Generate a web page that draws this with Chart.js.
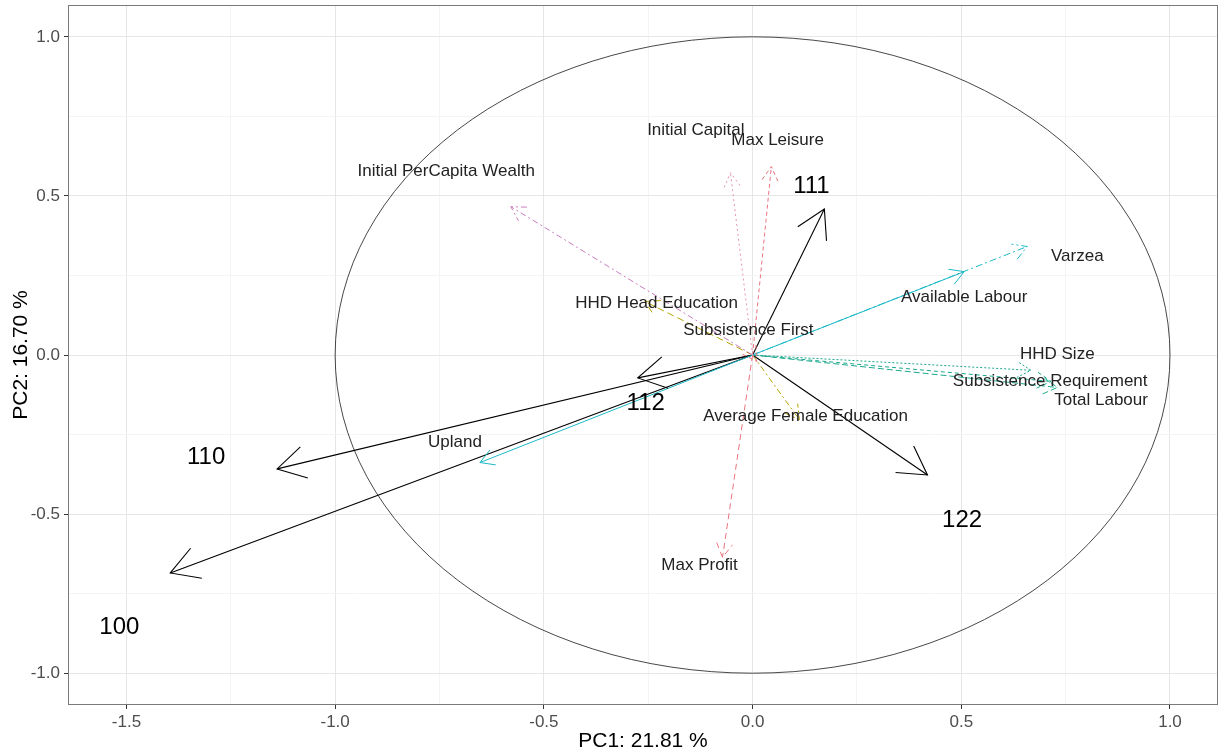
<!DOCTYPE html>
<html><head><meta charset="utf-8">
<script src="https://cdn.jsdelivr.net/npm/chart.js@4/dist/chart.umd.min.js"></script>
<style>html,body{margin:0;padding:0;background:#fff}#wrap{width:1222px;height:755px}</style>
</head><body><div id="wrap"><canvas id="c" width="1222" height="755"></canvas></div>
<script>
// Variable loadings (arrows from origin)
const varNames = ['Initial PerCapita Wealth','Initial Capital','Max Leisure','Max Profit','HHD Head Education','Subsistence First','Average Female Education','Available Labour','Varzea','HHD Size','Subsistence Requirement','Total Labour','Upland'];
const varX = [-0.579,-0.053,0.045,-0.072,-0.258,0.010,0.112,0.507,0.658,0.667,0.715,0.730,-0.653];
const varY = [0.466,0.573,0.592,-0.636,0.168,-0.020,-0.203,0.262,0.341,-0.048,-0.083,-0.102,-0.338];
const varLabelX = [-0.734,-0.136,0.060,-0.127,-0.230,-0.010,0.127,0.507,0.778,0.730,0.713,0.835,-0.713];
const varLabelY = [0.576,0.705,0.674,-0.661,0.162,0.077,-0.193,0.181,0.309,0.002,-0.083,-0.143,-0.275];
const varColors = ['#c97dbf','#e792b8','#e8737e','#e8737e','#b5a300','#e8737e','#b5a300','#1db9c8','#1db9c8','#1aa88c','#1aa88c','#1aa88c','#1db9c8'];
const varDash = [[6,3,2,3],[2,3],[4,3],[6,4],[7,4],[4,3],[6,3,2,3],[],[7,3,2,3],[2,2],[4,3],[6,3],[]];

// Scenario scores (black arrows)
const scenNames = ['111','112','110','100','122'];
const scenX = [0.172,-0.275,-1.139,-1.395,0.419];
const scenY = [0.459,-0.072,-0.358,-0.685,-0.377];
const scenLabelX = [0.141,-0.256,-1.309,-1.517,0.502];
const scenLabelY = [0.529,-0.151,-0.323,-0.856,-0.520];

// Axis settings
const xMin = -1.64, xMax = 1.115, yMin = -1.10, yMax = 1.10;
const tickStep = 0.25;
const xTitle = 'PC1: 21.81 %';
const yTitle = 'PC2: 16.70 %';

const FONT = "'Liberation Sans', Arial, sans-serif";

const datasets = [];
varNames.forEach((n,i)=>{
  datasets.push({label:n, kind:'var', idx:i,
    data:[{x:0,y:0},{x:varX[i],y:varY[i]}],
    showLine:true, borderColor:varColors[i], borderWidth:1, borderDash:varDash[i],
    pointRadius:0, fill:false, tension:0});
});
scenNames.forEach((n,i)=>{
  datasets.push({label:n, kind:'scen', idx:i,
    data:[{x:0,y:0},{x:scenX[i],y:scenY[i]}],
    showLine:true, borderColor:'#000', borderWidth:1.1, borderDash:[],
    pointRadius:0, fill:false, tension:0});
});

const isMajor = v => Math.abs(v/0.5 - Math.round(v/0.5)) < 1e-6;

const biplot = {
  id:'biplot',
  beforeDatasetsDraw(chart){
    const {ctx, scales:{x,y}, chartArea:a} = chart;
    ctx.save();
    ctx.beginPath(); ctx.rect(a.left,a.top,a.right-a.left,a.bottom-a.top); ctx.clip();
    const cx = x.getPixelForValue(0), cy = y.getPixelForValue(0);
    const rx = x.getPixelForValue(1)-cx, ry = cy - y.getPixelForValue(1);
    ctx.beginPath(); ctx.ellipse(cx,cy,rx,ry,0,0,Math.PI*2);
    ctx.strokeStyle='#333'; ctx.lineWidth=0.9; ctx.stroke();
    ctx.restore();
  },
  afterDatasetsDraw(chart){
    const {ctx, chartArea:a, scales:{x,y}} = chart;
    ctx.save();
    chart.data.datasets.forEach((ds,di)=>{
      const meta = chart.getDatasetMeta(di);
      const p0 = meta.data[0], p1 = meta.data[1];
      const ang = Math.atan2(p1.y-p0.y, p1.x-p0.x);
      const len = ds.kind==='scen' ? 32 : 16;
      const spread = Math.PI/6;
      ctx.beginPath();
      ctx.moveTo(p1.x - len*Math.cos(ang-spread), p1.y - len*Math.sin(ang-spread));
      ctx.lineTo(p1.x, p1.y);
      ctx.lineTo(p1.x - len*Math.cos(ang+spread), p1.y - len*Math.sin(ang+spread));
      ctx.strokeStyle = ds.borderColor; ctx.lineWidth = ds.borderWidth;
      ctx.setLineDash(ds.borderDash||[]);
      ctx.stroke();
    });
    ctx.setLineDash([]);
    ctx.textAlign='center'; ctx.textBaseline='middle';
    ctx.fillStyle='#222'; ctx.font = "17px "+FONT;
    varNames.forEach((n,i)=>{
      ctx.fillText(n, x.getPixelForValue(varLabelX[i]), y.getPixelForValue(varLabelY[i]));
    });
    ctx.fillStyle='#000'; ctx.font = "24px "+FONT;
    scenNames.forEach((n,i)=>{
      ctx.fillText(n, x.getPixelForValue(scenLabelX[i]), y.getPixelForValue(scenLabelY[i]));
    });
    // panel border
    ctx.strokeStyle='#7a7a7a'; ctx.lineWidth=1;
    ctx.strokeRect(Math.round(a.left)+0.5, Math.round(a.top)+0.5, Math.round(a.right-a.left)-1, Math.round(a.bottom-a.top)-1);
    ctx.restore();
  }
};

function axisCfg(min,max,title,isY){
  return {
    type:'linear', min, max,
    afterFit(s){
      if(isY) s.width = 68; else s.height = 50;
      s.paddingTop = 0; s.paddingBottom = 0; s.paddingLeft = 0; s.paddingRight = 0;
    },
    ticks:{ stepSize:tickStep, includeBounds:false, autoSkip:false, maxRotation:0,
      padding: isY ? 4 : 3,
      color:'#4d4d4d', font:{family:FONT, size:17},
      callback:(v)=> isMajor(v) ? v.toFixed(1) : '' },
    grid:{ drawOnChartArea:true, drawTicks:true, tickLength:4,
      color:(c)=> (c.tick && isMajor(c.tick.value)) ? '#e6e6e6' : '#f4f4f4',
      lineWidth:1,
      tickColor:(c)=> (c.tick && isMajor(c.tick.value)) ? '#333' : 'rgba(0,0,0,0)' },
    border:{display:false},
    title:{display:true, text:title, color:'#000', font:{family:FONT, size:21},
      padding: isY ? {top:9,bottom:0} : {top:0,bottom:1} }
  };
}

new Chart(document.getElementById('c'), {
  type:'scatter',
  data:{datasets},
  plugins:[biplot],
  options:{
    responsive:false, animation:false, devicePixelRatio:1,
    layout:{padding:{top:5,right:4,left:0,bottom:0}},
    plugins:{legend:{display:false}, tooltip:{enabled:false}},
    scales:{ x:axisCfg(xMin,xMax,xTitle,false), y:axisCfg(yMin,yMax,yTitle,true) }
  }
});
</script></body></html>
